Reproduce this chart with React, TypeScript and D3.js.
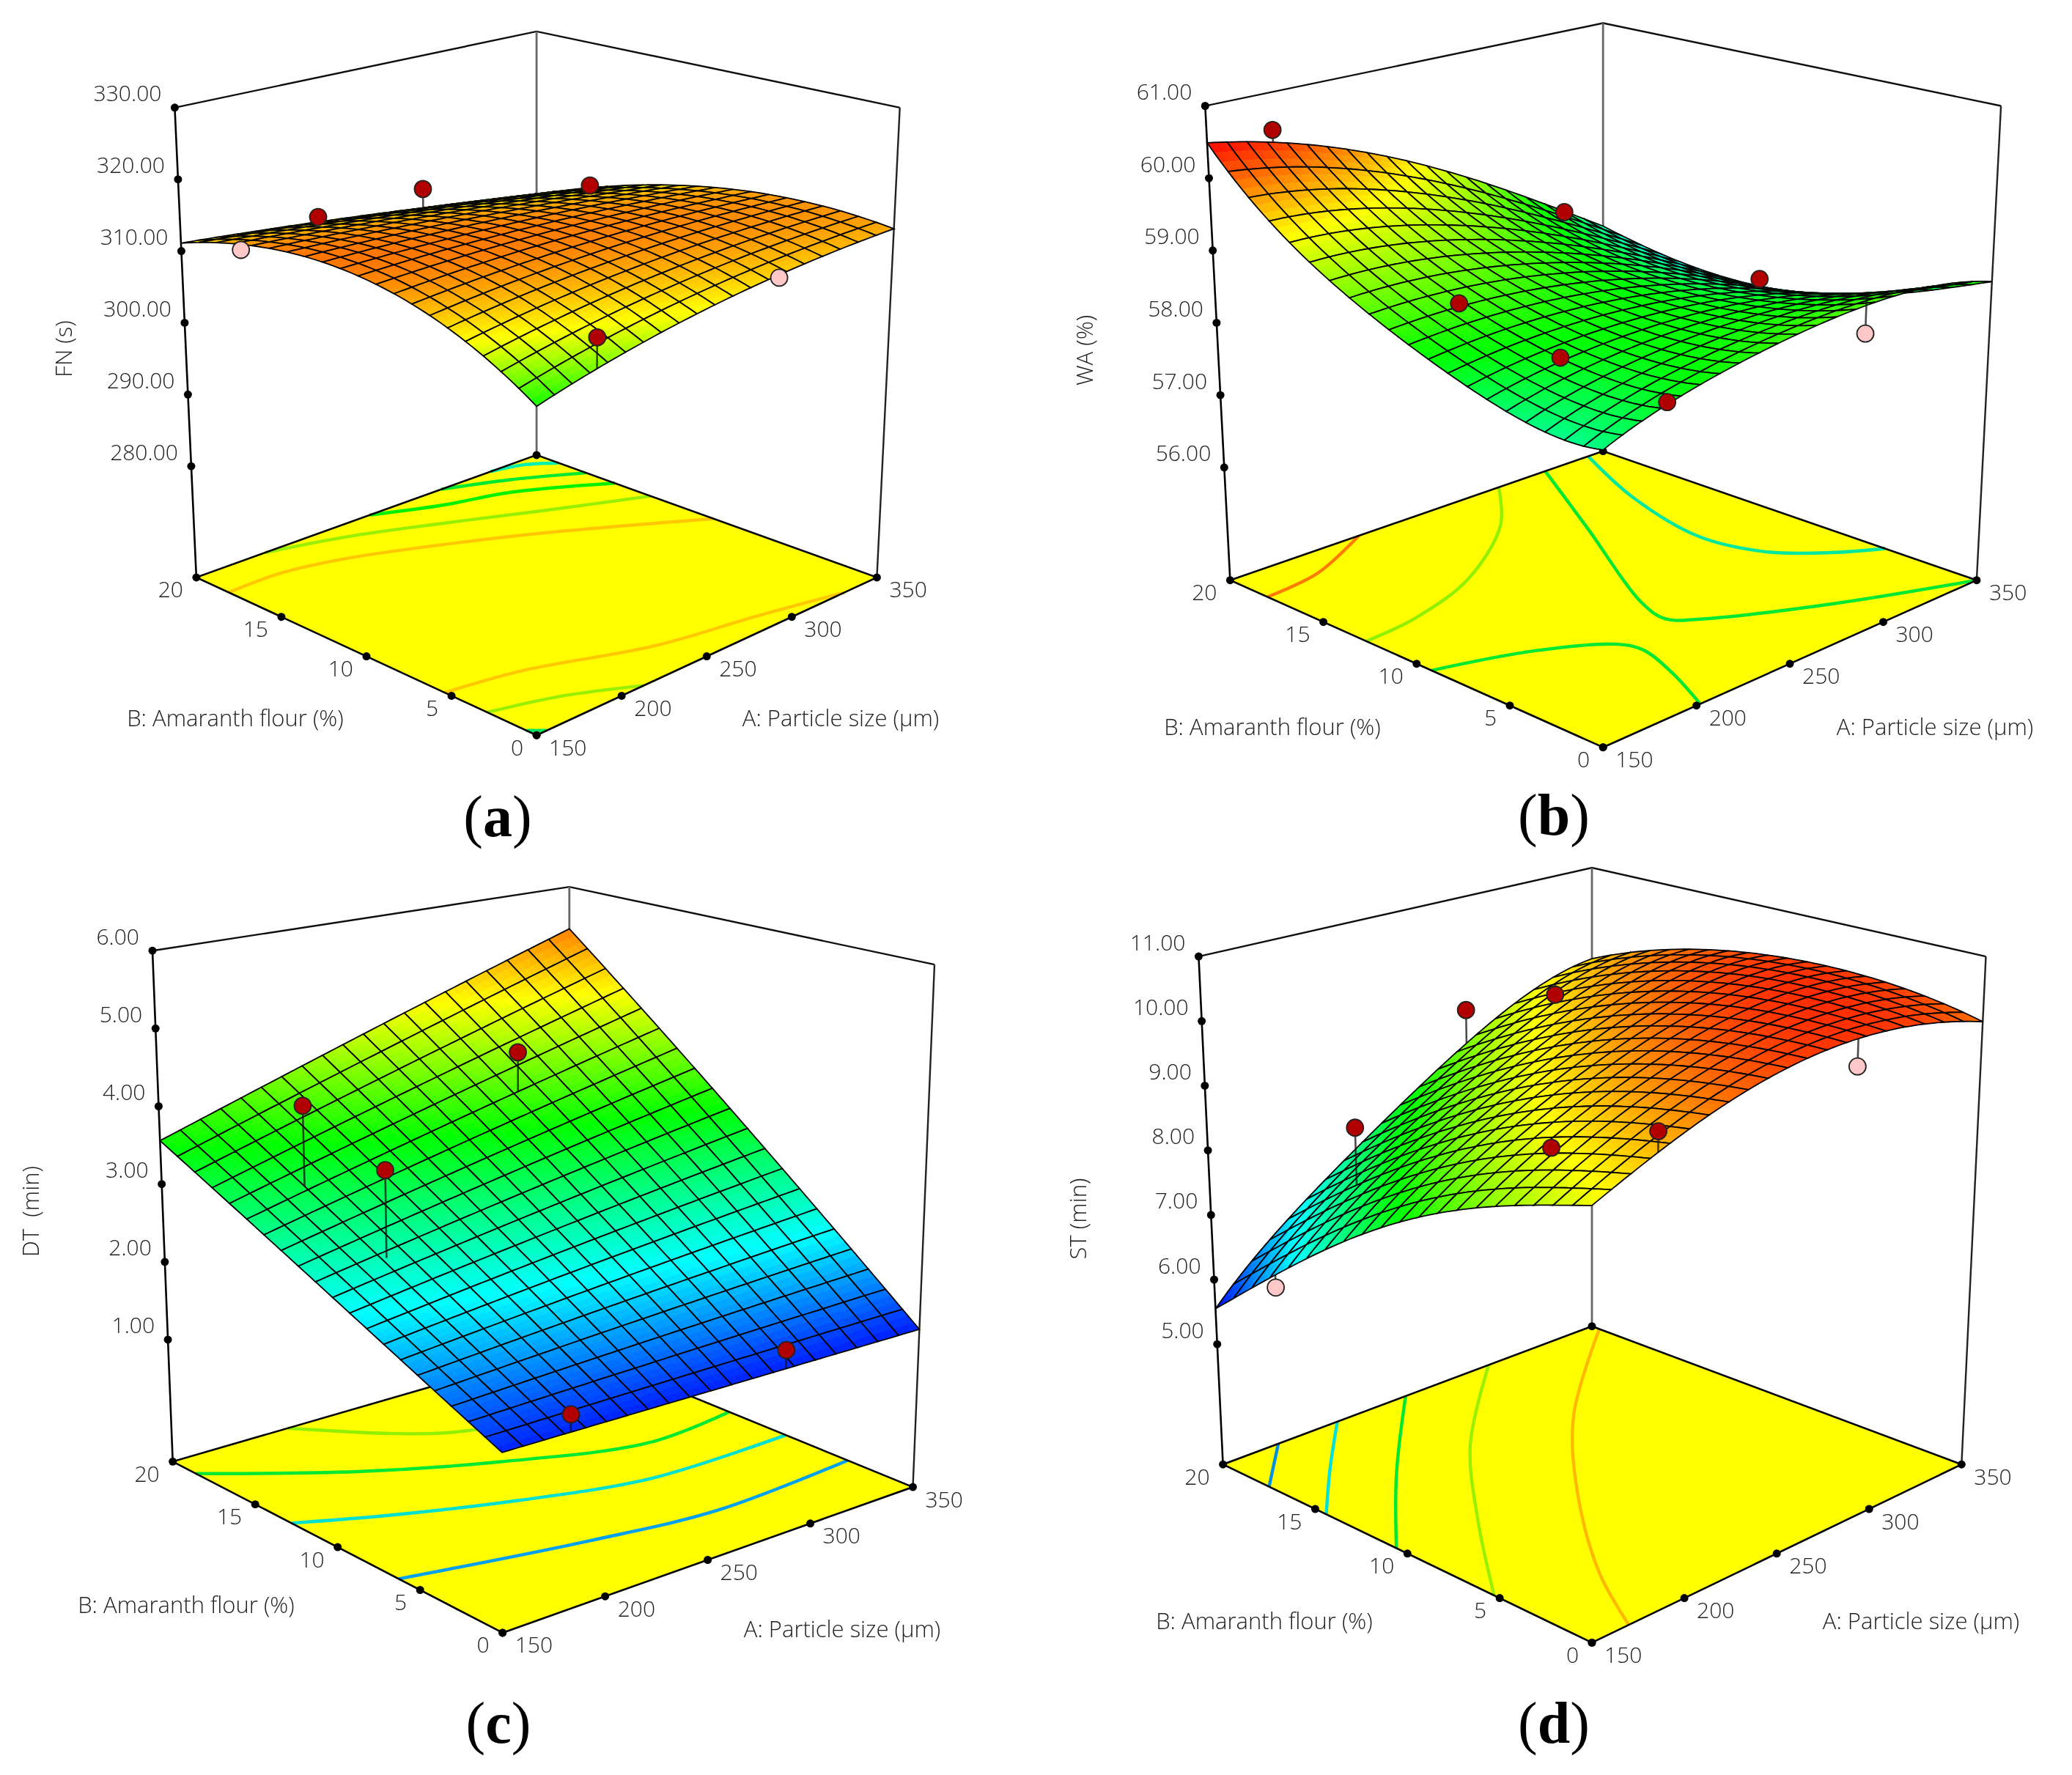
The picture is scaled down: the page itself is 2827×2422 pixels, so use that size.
import { useEffect, useRef } from 'react';
import * as d3 from 'd3';

const particleTicks = [150, 200, 250, 300, 350];
const flourTicks = [0, 5, 10, 15, 20];

// response values, rows are amaranth flour, columns particle size
const coarseA = [150, 250, 350];
const coarseB = [0, 10, 20];
const fineA = [150, 200, 250, 300, 350];
const fineB = [0, 5, 10, 15, 20];

const fnSurface = [
  [305.4, 310.7, 313.1],
  [314.5, 314.5, 312.7],
  [311.1, 308.5, 304.8],
];
const waSurface = [
  [58.11, 58.51, 58.74, 58.82, 58.57],
  [58.17, 58.43, 58.51, 58.41, 58.04],
  [58.6, 58.66, 58.55, 58.24, 57.69],
  [59.27, 59.18, 58.86, 58.34, 57.64],
  [60.49, 60.16, 59.6, 58.82, 57.89],
];
const dtSurface = [
  [1.443, 1.43, 1.416],
  [2.414, 2.85, 3.29],
  [3.557, 4.44, 5.4],
];
const stSurface = [
  [9.18, 9.8, 10.23, 10.32, 9.99],
  [8.7, 9.48, 10.05, 10.35, 10.24],
  [7.98, 8.9, 9.62, 10.15, 10.25],
  [6.9, 8.0, 8.89, 9.66, 10.01],
  [5.55, 6.8, 7.86, 8.85, 9.44],
];

// design points: [A, B, response, above surface?]
const fnPoints = [
  [227, 20, 309.9, 1], [286, 20, 310.1, 1], [350, 17, 308.3, 1],
  [184, 0, 311.5, 1], [286, 0, 311.5, 0], [150, 16.6, 312.9, 0],
];
const waPoints = [
  [183, 20, 60.47, 1], [330, 20, 58.26, 1], [340, 10.9, 57.9, 1], [330, 4.4, 57.71, 0],
  [190, 11.4, 58.73, 1], [190, 6.2, 58.44, 1], [183, 0, 58.43, 1],
];
const dtPoints = [
  [180, 15.2, 4.2, 1], [182, 10.7, 3.71, 1], [282, 15, 4.365, 1], [183, 0, 1.64, 1], [286, 0, 1.65, 1],
];
const stPoints = [
  [286, 0, 9.92, 0], [184, 0, 9.91, 1], [184, 5.5, 9.19, 1], [320, 18.9, 9.18, 1],
  [285, 20, 9.12, 1], [190, 16.3, 8.4, 1], [150, 16.7, 6.27, 0],
];

// floor contours as [A, B] points
const fnContours = [
  { color: '#00f0b0', pts: [[323, 20], [338, 19.6], [350, 18.7]] },
  { color: '#00e830', pts: [[294, 20], [322, 18.8], [350, 17.1]] },
  { color: '#00f000', pts: [[252, 20], [283, 18.7], [312, 17.8], [350, 15.4]] },
  { color: '#98f000', pts: [[190.6, 20], [228, 19], [269, 17.3], [308, 15.4], [350, 13.3]] },
  { color: '#ffc800', pts: [[150, 18.1], [181, 18.1], [212, 17.4], [253, 15.7], [291, 13.7], [350, 9.6]] },
  { color: '#ffc800', pts: [[150, 5.4], [188, 4.6], [243, 2.3], [290, 1.2], [331, 0]] },
  { color: '#98f000', pts: [[150, 2.9], [182, 1.8], [213, 0]] },
  { color: '#00e860', pts: [[150, 0.6], [156, 0]] },
];
const waContours = [
  { color: '#ff7a00', pts: [[219, 20], [181, 18.4], [150, 18]] },
  { color: '#90f000', pts: [[294, 20], [267, 17.2], [221, 14.3], [180, 13], [150, 12.7]] },
  { color: '#00e830', pts: [[319, 20], [288, 14.6], [252, 8.2], [247, 6.4], [256, 5.4], [299, 2.7], [350, 0]] },
  { color: '#00e830', pts: [[150, 9.2], [191, 7.8], [218, 6], [221, 4.9], [214, 2.7], [202, 0]] },
  { color: '#00e8a0', pts: [[342, 20], [323, 15.7], [312, 11.1], [318, 8.2], [334, 6.2], [350, 4.9]] },
];
const dtContours = [
  { color: '#00a0f0', pts: [[150, 6.3], [228, 4.4], [283, 3.4], [350, 3.8]] },
  { color: '#00e0d0', pts: [[150, 12.8], [185, 11.1], [233, 9.1], [284, 7.5], [350, 7.4]] },
  { color: '#00e830', pts: [[150, 18.6], [202, 15.1], [251, 12.5], [307, 10.3], [350, 10.7]] },
  { color: '#90f000', pts: [[208, 20], [236, 17.3], [256, 15.9], [308, 14.4]] },
];
const stContours = [
  { color: '#ffb800', pts: [[350, 19.6], [283, 14.3], [235, 9.3], [192, 3.8], [170, 0]] },
  { color: '#98f000', pts: [[294, 20], [235, 15.1], [191, 10.3], [150, 5.3]] },
  { color: '#00e830', pts: [[249, 20], [195, 15.1], [150, 10.6]] },
  { color: '#00e0e0', pts: [[212, 20], [179, 17.1], [150, 14.4]] },
  { color: '#0090e8', pts: [[180, 20], [150, 17.5]] },
];

const rampColors = ['#0000ff', '#00ffff', '#00ff00', '#ffff00', '#ff0000'];

const panels = [
  {
    tag: 'a', yTitle: 'FN (s)', zTicks: [330, 320, 310, 300, 290, 280], zDomain: [264.5, 330],
    nodesA: coarseA, nodesB: coarseB, surface: fnSurface, points: fnPoints, contours: fnContours,
    stops: [296, 300.5, 305, 310.5, 318.5],
    frame: {
      leftTop: [238.4, 146.8], leftFloor: [267.9, 787.9], backTop: [732.1, 42.9], backFloor: [732.1, 620.9],
      rightTop: [1227.7, 146.8], rightFloor: [1196.4, 787.9], frontTop: [732.1, 284.5], frontFloor: [732.1, 1003.2],
    },
    titleB: [321, 980], titleA: [1147, 980], titleZ: [87, 476], caption: [679, 1115],
  },
  {
    tag: 'b', yTitle: 'WA (%)', zTicks: [61, 60, 59, 58, 57, 56], zDomain: [54.44, 61],
    nodesA: fineA, nodesB: fineB, surface: waSurface, points: waPoints, contours: waContours,
    stops: [56.9, 57.7, 58.5, 59.5, 60.5],
    frame: {
      leftTop: [1644.3, 144.5], leftFloor: [1678.4, 791.7], backTop: [2187.2, 31.6], backFloor: [2187.2, 615.6],
      rightTop: [2730.1, 144.5], rightFloor: [2696.9, 791.7], frontTop: [2187.2, 294.3], frontFloor: [2187.2, 1019.7],
    },
    titleB: [1736, 992], titleA: [2640, 992], titleZ: [1480, 478], caption: [2120, 1113],
  },
  {
    tag: 'c', yTitle: 'DT\u00a0\u00a0(min)', zTicks: [6, 5, 4, 3, 2, 1], zDomain: [-0.567, 6],
    nodesA: coarseA, nodesB: coarseB, surface: dtSurface, points: dtPoints, contours: dtContours,
    stops: [1.3, 2.3, 3.5, 4.7, 6.1],
    frame: {
      leftTop: [208, 1297.2], leftFloor: [235.7, 1994.3], backTop: [776.8, 1210.1], backFloor: [776.8, 1837.4],
      rightTop: [1275, 1316.2], rightFloor: [1245.5, 2029.1], frontTop: [683, 1424], frontFloor: [685.7, 2227.9],
    },
    titleB: [254, 2190], titleA: [1149, 2223], titleZ: [42, 1653], caption: [680, 2352],
  },
  {
    tag: 'd', yTitle: 'ST (min)', zTicks: [11, 10, 9, 8, 7, 6, 5], zDomain: [3.14, 11],
    nodesA: fineA, nodesB: fineB, surface: stSurface, points: stPoints, contours: stContours,
    stops: [5.5, 6.75, 8, 9.25, 10.6],
    frame: {
      leftTop: [1635.4, 1305.1], leftFloor: [1668.6, 1998.2], backTop: [2172, 1184], backFloor: [2172, 1809.7],
      rightTop: [2709.5, 1305.1], rightFloor: [2676.3, 1998.2], frontTop: [2172, 1465.1], frontFloor: [2172, 2241.4],
    },
    titleB: [1725, 2212], titleA: [2621, 2212], titleZ: [1471, 1663], caption: [2120, 2352],
  },
];

const LABEL_FONT = '"Open Sans", "Noto Sans", sans-serif';
const CELLS = 20;
const SUB_STEPS = 3;

// smooth model through the read values (Lagrange on the node grid)
function lagrange(nodes: number[], x: number) {
  return nodes.map((n, i) => {
    let w = 1;
    nodes.forEach((m, k) => {
      if (k !== i) w *= (x - m) / (n - m);
    });
    return w;
  });
}

function drawPanel(root: any, p: any) {
  const g = root.append('g').attr('class', `panel-${p.tag}`);
  const f = p.frame;
  const uOf = d3.scaleLinear().domain([150, 350]).range([0, 1]);
  const vOf = d3.scaleLinear().domain([0, 20]).range([0, 1]);
  const tOf = d3.scaleLinear().domain(p.zDomain).range([0, 1]);

  const bilinear = (front: number[], right: number[], left: number[], back: number[], u: number, v: number) => {
    const mix = (k: number) =>
      (1 - u) * (1 - v) * front[k] + u * (1 - v) * right[k] + (1 - u) * v * left[k] + u * v * back[k];
    return [mix(0), mix(1)];
  };
  const project = (a: number, b: number, z: number) => {
    const u = uOf(a);
    const v = vOf(b);
    const t = tOf(z);
    const lo = bilinear(f.frontFloor, f.rightFloor, f.leftFloor, f.backFloor, u, v);
    const hi = bilinear(f.frontTop, f.rightTop, f.leftTop, f.backTop, u, v);
    return [lo[0] + (hi[0] - lo[0]) * t, lo[1] + (hi[1] - lo[1]) * t];
  };
  const surfaceAt = (a: number, b: number) => {
    const wa = lagrange(p.nodesA, a);
    const wb = lagrange(p.nodesB, b);
    let z = 0;
    wb.forEach((wj: number, j: number) => wa.forEach((wi: number, i: number) => (z += wi * wj * p.surface[j][i])));
    return z;
  };
  const color = d3.scaleLinear<string>().domain(p.stops).range(rampColors).clamp(true);
  const zFloor = p.zDomain[0];
  const zTop = p.zDomain[1];
  const line = d3.line();
  const ring = (pts: number[][]) => line(pts as any) + 'Z';

  // back frame
  g.append('path')
    .attr('d', line([project(150, 20, zTop), project(350, 20, zTop), project(350, 0, zTop)] as any))
    .attr('fill', 'none').attr('stroke', '#111').attr('stroke-width', 2.4);
  g.append('path')
    .attr('d', line([project(350, 20, zTop), project(350, 20, zFloor)] as any))
    .attr('fill', 'none').attr('stroke', '#666').attr('stroke-width', 2.8);

  // floor with contours
  g.append('path')
    .attr('d', ring([project(150, 0, zFloor), project(350, 0, zFloor), project(350, 20, zFloor), project(150, 20, zFloor)]))
    .attr('fill', '#ffff00');
  const contourLine = d3.line().curve(d3.curveCatmullRom);
  p.contours.forEach((c: any) => {
    g.append('path')
      .attr('d', contourLine(c.pts.map((q: number[]) => project(q[0], q[1], zFloor)) as any))
      .attr('fill', 'none').attr('stroke', c.color).attr('stroke-width', 4.4);
  });
  g.append('path')
    .attr('d', ring([project(150, 0, zFloor), project(350, 0, zFloor), project(350, 20, zFloor), project(150, 20, zFloor)]))
    .attr('fill', 'none').attr('stroke', '#000').attr('stroke-width', 2.6);

  // vertical axes
  g.append('path')
    .attr('d', line([project(150, 20, zTop), project(150, 20, zFloor)] as any))
    .attr('fill', 'none').attr('stroke', '#000').attr('stroke-width', 2.6);
  g.append('path')
    .attr('d', line([project(350, 0, zTop), project(350, 0, zFloor)] as any))
    .attr('fill', 'none').attr('stroke', '#222').attr('stroke-width', 2.4);

  const dot = (q: number[]) => g.append('circle').attr('cx', q[0]).attr('cy', q[1]).attr('r', 5.5).attr('fill', '#000');
  const label = (x: number, y: number, txt: string, anchor: string) =>
    g.append('text').attr('x', x).attr('y', y).attr('dy', '0.35em').attr('text-anchor', anchor)
      .attr('font-family', LABEL_FONT).attr('font-weight', 300).attr('font-size', 30).attr('fill', '#222').text(txt);

  // ticks
  const fmt = d3.format('.2f');
  p.zTicks.forEach((z: number) => {
    const q = project(150, 20, z);
    dot(q);
    label(q[0] - 18, q[1] - 19, fmt(z), 'end');
  });
  particleTicks.forEach((a) => {
    const q = project(a, 0, zFloor);
    dot(q);
    label(q[0] + 17, q[1] + 17, String(a), 'start');
  });
  flourTicks.forEach((b) => {
    const q = project(150, b, zFloor);
    dot(q);
    label(q[0] - 18, q[1] + 17, String(b), 'end');
  });
  dot(project(350, 20, zFloor));

  // surface, back to front so the hump hides what is behind it
  const aAt = d3.scaleLinear().domain([0, CELLS]).range([150, 350]);
  const bAt = d3.scaleLinear().domain([0, CELLS]).range([0, 20]);
  const surf = g.append('g');
  const vertex = (a: number, b: number) => project(a, b, surfaceAt(a, b));
  for (let i = CELLS - 1; i >= 0; i--) {
    for (let j = CELLS - 1; j >= 0; j--) {
      for (let si = SUB_STEPS - 1; si >= 0; si--) {
        for (let sj = SUB_STEPS - 1; sj >= 0; sj--) {
          const a0 = aAt(i + si / SUB_STEPS);
          const a1 = aAt(i + (si + 1) / SUB_STEPS);
          const b0 = bAt(j + sj / SUB_STEPS);
          const b1 = bAt(j + (sj + 1) / SUB_STEPS);
          const fill = color(surfaceAt((a0 + a1) / 2, (b0 + b1) / 2));
          surf.append('path')
            .attr('d', ring([vertex(a0, b0), vertex(a1, b0), vertex(a1, b1), vertex(a0, b1)]))
            .attr('fill', fill).attr('stroke', fill).attr('stroke-width', 0.8);
        }
      }
      // outline of the cell follows the curved surface
      const outline: number[][] = [];
      for (let s = 0; s <= SUB_STEPS; s++) outline.push(vertex(aAt(i + s / SUB_STEPS), bAt(j)));
      for (let s = 1; s <= SUB_STEPS; s++) outline.push(vertex(aAt(i + 1), bAt(j + s / SUB_STEPS)));
      for (let s = 1; s <= SUB_STEPS; s++) outline.push(vertex(aAt(i + 1 - s / SUB_STEPS), bAt(j + 1)));
      for (let s = 1; s < SUB_STEPS; s++) outline.push(vertex(aAt(i), bAt(j + 1 - s / SUB_STEPS)));
      surf.append('path').attr('d', ring(outline)).attr('fill', 'none').attr('stroke', '#000').attr('stroke-width', 1.8);
    }
  }

  // design points with their stems
  p.points.forEach((d: number[]) => {
    const at = project(d[0], d[1], d[2]);
    const foot = vertex(d[0], d[1]);
    g.append('path').attr('d', line([at, foot] as any)).attr('stroke', '#111').attr('stroke-width', 2.6)
      .attr('stroke-opacity', 0.75).attr('fill', 'none');
    g.append('circle').attr('cx', at[0]).attr('cy', at[1]).attr('r', 11.5)
      .attr('fill', d[3] ? '#b00000' : '#ffc8c8').attr('stroke', '#222').attr('stroke-width', 1.8);
  });

  // axis titles and caption
  const title = (pos: number[], txt: string) =>
    g.append('text').attr('x', pos[0]).attr('y', pos[1]).attr('dy', '0.35em').attr('text-anchor', 'middle')
      .attr('font-family', LABEL_FONT).attr('font-weight', 300).attr('font-size', 31).attr('fill', '#222').text(txt);
  title(p.titleB, 'B: Amaranth flour (%)');
  title(p.titleA, 'A: Particle size (µm)');
  title(p.titleZ, p.yTitle).attr('transform', `rotate(-90 ${p.titleZ[0]} ${p.titleZ[1]})`);

  const cap = g.append('text').attr('x', p.caption[0]).attr('y', p.caption[1]).attr('dy', '0.33em').attr('text-anchor', 'middle')
    .attr('font-family', '"Liberation Serif", serif').attr('font-size', 80).attr('fill', '#000');
  cap.append('tspan').text('(');
  cap.append('tspan').attr('font-weight', 'bold').text(p.tag);
  cap.append('tspan').text(')');
}

export default function App() {
  const svgRef = useRef<SVGSVGElement>(null);

  useEffect(() => {
    const svg = d3.select(svgRef.current);
    svg.selectAll('*').remove();
    svg.append('rect').attr('width', 2827).attr('height', 2422).attr('fill', '#fff');
    // the source is an enlarged bitmap, so everything sits a little soft
    svg.append('filter').attr('id', 'soft')
      .attr('filterUnits', 'userSpaceOnUse').attr('x', 0).attr('y', 0).attr('width', 2827).attr('height', 2422)
      .append('feGaussianBlur').attr('stdDeviation', 0.7);
    const root = svg.append('g').attr('filter', 'url(#soft)');
    panels.forEach((p) => drawPanel(root, p));
  }, []);

  return (
    <svg
      ref={svgRef}
      width={2827}
      height={2422}
      viewBox="0 0 2827 2422"
      style={{ position: 'absolute', left: 0, top: 0, display: 'block' }}
    />
  );
}
